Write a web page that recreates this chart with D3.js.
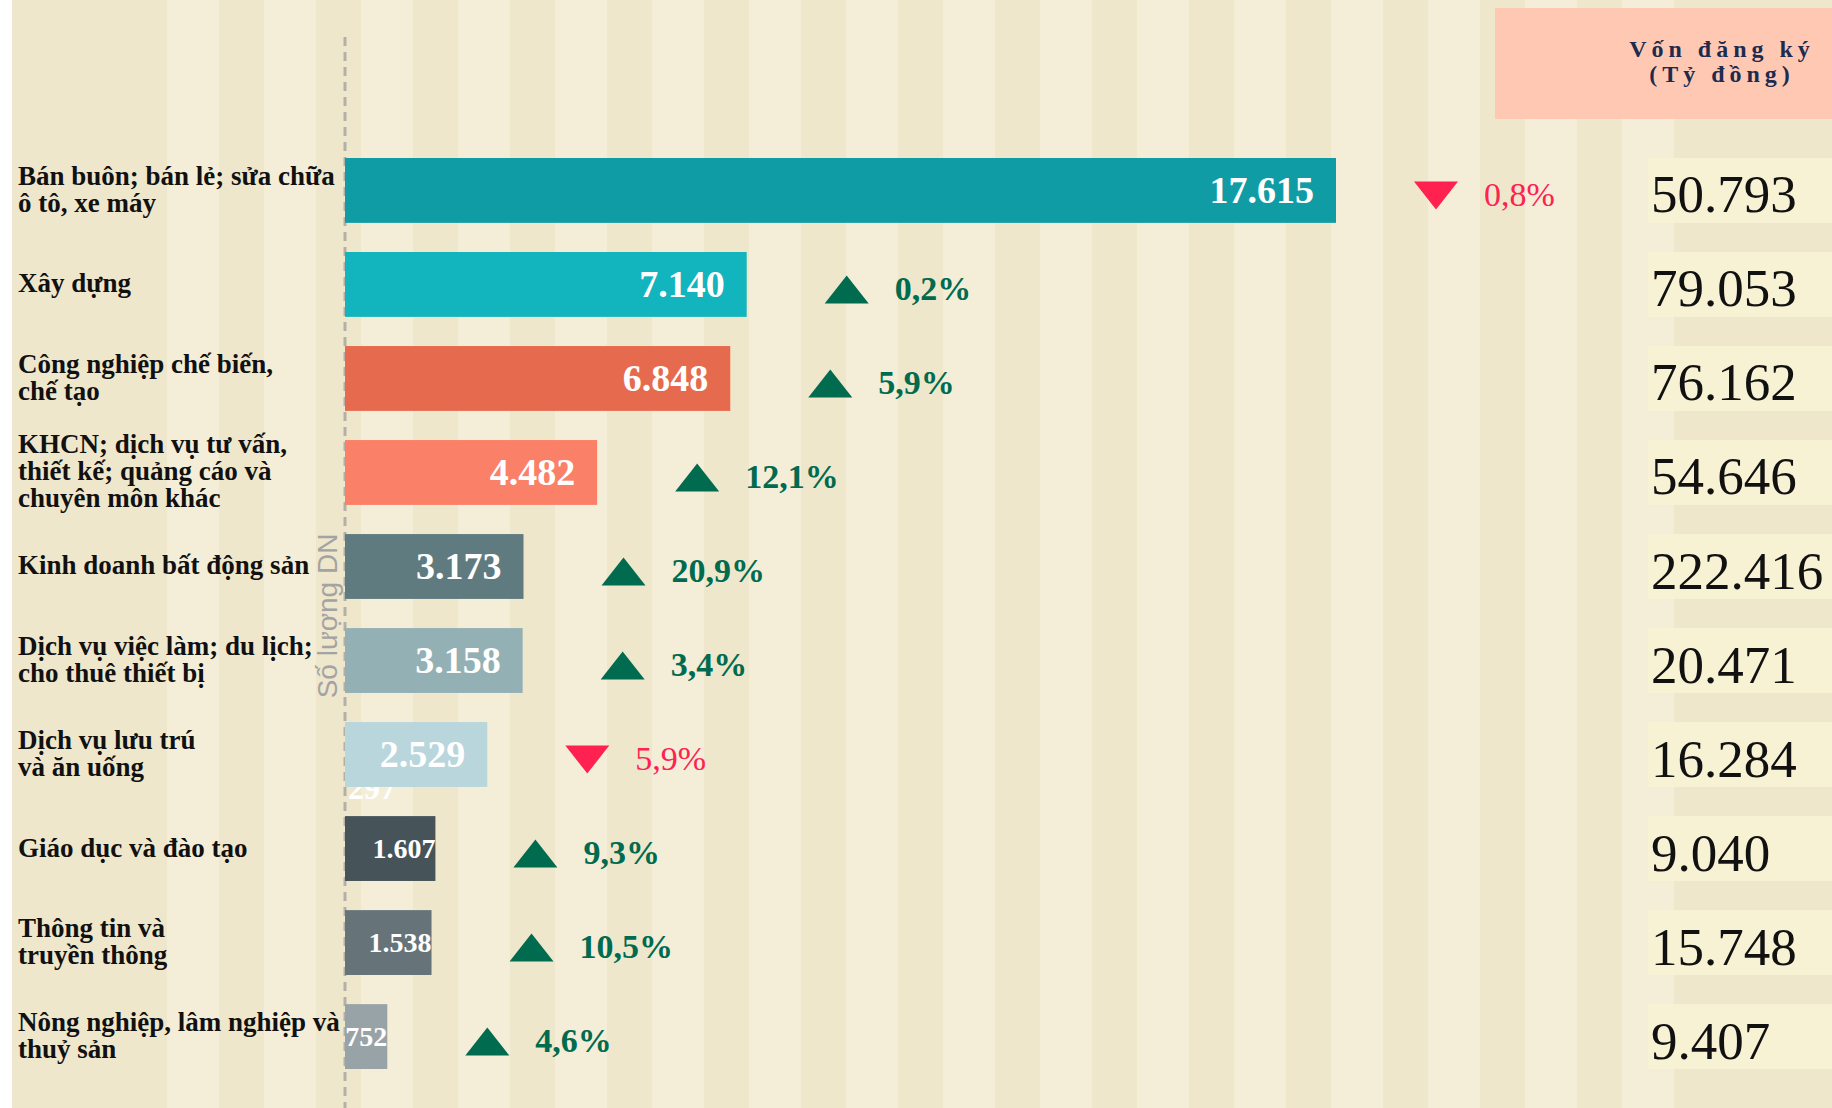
<!DOCTYPE html>
<html>
<head>
<meta charset="utf-8">
<script src="https://cdn.jsdelivr.net/npm/d3@7"></script>
<style>
  body { margin: 0; background: #fff; }
  svg { display: block; }
</style>
</head>
<body>
<svg id="chart"></svg>
<script>
const W = 1832, H = 1108;

// data
const categories = [
  "Bán buôn; bán lẻ; sửa chữa|ô tô, xe máy",
  "Xây dựng",
  "Công nghiệp chế biến,|chế tạo",
  "KHCN; dịch vụ tư vấn,|thiết kế; quảng cáo và|chuyên môn khác",
  "Kinh doanh bất động sản",
  "Dịch vụ việc làm; du lịch;|cho thuê thiết bị",
  "Dịch vụ lưu trú|và ăn uống",
  "Giáo dục và đào tạo",
  "Thông tin và|truyền thông",
  "Nông nghiệp, lâm nghiệp và|thuỷ sản"
];
const firms = [17615, 7140, 6848, 4482, 3173, 3158, 2529, 1607, 1538, 752];
const changes = [-0.8, 0.2, 5.9, 12.1, 20.9, 3.4, -5.9, 9.3, 10.5, 4.6];
const capital = [50793, 79053, 76162, 54646, 222416, 20471, 16284, 9040, 15748, 9407];
const strayLabel = "297"; // half hidden under the 7th bar in the original

const barColors = ["#109ca4", "#12b4bd", "#e66b4e", "#fa8067", "#607b80",
                   "#93b0b5", "#b8d6dc", "#465358", "#66747a", "#98a3a8"];
const upColor = "#006b4f", downColor = "#ff2150";

const vn = d3.formatLocale({ decimal: ",", thousands: ".", grouping: [3], currency: ["", ""] });
const fmtInt = vn.format(",d");
const fmtPct = vn.format(".1f");

const svg = d3.select("#chart").attr("width", W).attr("height", H);

// striped backdrop
svg.append("rect").attr("x", 12).attr("width", W - 12).attr("height", H).attr("fill", "#efe7cc");
svg.append("g").selectAll("rect")
  .data(d3.range(167, 1677, 97))
  .join("rect")
  .attr("x", d => d).attr("y", 0)
  .attr("width", 52).attr("height", H)
  .attr("fill", "#f4eed9");

const x = d3.scaleLinear().domain([0, d3.max(firms)]).range([345, 1336]);
const y = d3.scaleBand().domain(categories).range([158, 1069]).paddingInner(0.31);
const color = d3.scaleOrdinal().domain(categories).range(barColors);
const bw = y.bandwidth();
const mid = c => y(c) + bw / 2;

// header of the right column
svg.append("rect").attr("x", 1495).attr("y", 8).attr("width", W - 1495).attr("height", 111)
  .attr("fill", "#ffc8b3");
svg.append("text")
  .attr("x", 1722).attr("text-anchor", "middle")
  .attr("font-family", "Liberation Serif, serif").attr("font-weight", "bold")
  .attr("font-size", 24).attr("letter-spacing", 5).attr("fill", "#1d2b4f")
  .selectAll("tspan").data(["Vốn đăng ký", "(Tỷ đồng)"]).join("tspan")
  .attr("x", 1722).attr("y", (d, i) => 57 + i * 25).text(d => d);

// dashed baseline
svg.append("line")
  .attr("x1", x(0)).attr("x2", x(0)).attr("y1", 37).attr("y2", H)
  .attr("stroke", "#b3b0a8").attr("stroke-width", 3).attr("stroke-dasharray", "9,6");

// axis title
svg.append("text")
  .attr("transform", `translate(337, 616) rotate(-90)`)
  .attr("text-anchor", "middle")
  .attr("font-family", "Liberation Sans, Arial, sans-serif")
  .attr("font-size", 28).attr("fill", "#a3a3a3")
  .text("Số lượng DN");

// category labels
svg.append("g").selectAll("text")
  .data(categories)
  .join("text")
  .attr("font-family", "Liberation Serif, serif").attr("font-weight", "bold")
  .attr("font-size", 27).attr("fill", "#111")
  .each(function (c) {
    const lines = c.split("|");
    d3.select(this).selectAll("tspan").data(lines).join("tspan")
      .attr("x", 18)
      .attr("y", (d, i) => mid(c) + (i - (lines.length - 1) / 2) * 27 + 8)
      .text(d => d);
  });

// stray label under bar 7
svg.append("text")
  .attr("x", x(0) + 3).attr("y", y(categories[6]) + bw + 12)
  .attr("font-family", "Liberation Serif, serif").attr("font-weight", "bold")
  .attr("font-size", 32).attr("fill", "#fff")
  .text(strayLabel);

// bars
svg.append("g").selectAll("rect")
  .data(categories)
  .join("rect")
  .attr("x", x(0))
  .attr("y", c => y(c))
  .attr("width", (c, i) => x(firms[i]) - x(0))
  .attr("height", bw)
  .attr("fill", c => color(c));

svg.append("g").selectAll("text")
  .data(categories)
  .join("text")
  .attr("x", (c, i) => x(firms[i]) - (firms[i] >= 2000 ? 22 : 0))
  .attr("y", c => mid(c))
  .attr("dy", "0.34em")
  .attr("text-anchor", "end")
  .attr("font-family", "Liberation Serif, serif").attr("font-weight", "bold")
  .attr("font-size", (c, i) => firms[i] >= 2000 ? 38 : 28)
  .attr("fill", "#fff")
  .text((c, i) => fmtInt(firms[i]));

// change markers
const marks = svg.append("g").selectAll("g")
  .data(categories)
  .join("g")
  .attr("transform", (c, i) => `translate(${x(firms[i]) + 100},${mid(c) + 5})`);

marks.append("polygon")
  .attr("points", (c, i) => changes[i] >= 0 ? "-22,14 22,14 0,-14" : "-22,-14 22,-14 0,14")
  .attr("fill", (c, i) => changes[i] >= 0 ? upColor : downColor);

marks.append("text")
  .attr("x", 48)
  .attr("dy", "0.3em")
  .attr("font-family", "Liberation Serif, serif")
  .attr("font-weight", (c, i) => changes[i] >= 0 ? "bold" : "normal")
  .attr("font-size", 34)
  .attr("fill", (c, i) => changes[i] >= 0 ? upColor : downColor)
  .text((c, i) => fmtPct(Math.abs(changes[i])) + "%");

// registered capital column
svg.append("g").selectAll("rect")
  .data(categories)
  .join("rect")
  .attr("x", 1648).attr("y", c => y(c))
  .attr("width", W - 1648).attr("height", bw)
  .attr("fill", "#f8f2d5");

svg.append("g").selectAll("text")
  .data(categories)
  .join("text")
  .attr("x", 1651).attr("y", c => mid(c) + 4)
  .attr("dy", "0.34em")
  .attr("font-family", "Liberation Serif, serif")
  .attr("font-size", 53).attr("fill", "#111")
  .text((c, i) => fmtInt(capital[i]));
</script>
</body>
</html>
